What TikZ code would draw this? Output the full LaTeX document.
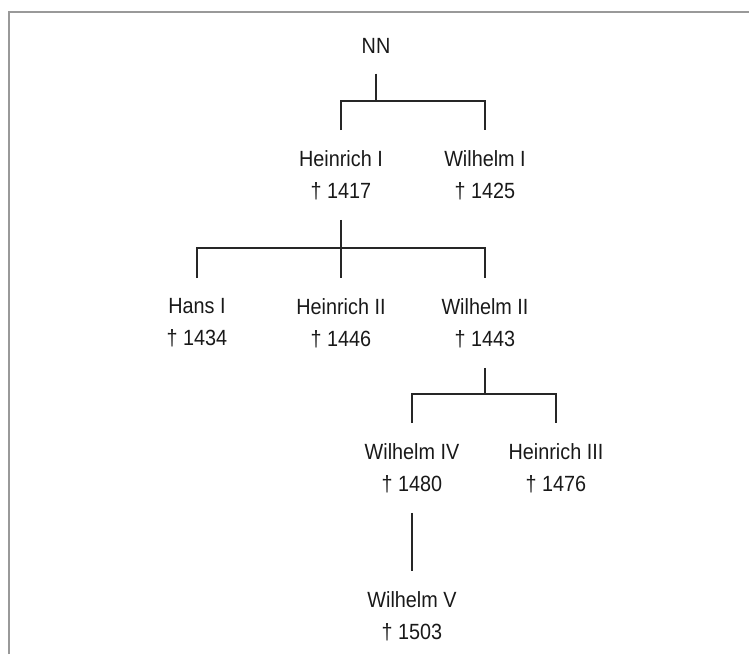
\documentclass[tikz,border=0pt]{standalone}
\usepackage{fontspec}
\setmainfont{Liberation Sans}[FakeStretch=0.9]
\begin{document}
\begin{tikzpicture}[x=1pt,y=-1pt,
  person/.style={align=center,anchor=north,inner xsep=0pt,inner ysep=20pt,
    font=\fontsize{22}{32}\selectfont,text=black!90},
  line/.style={line width=1.1pt,black!85}]
\useasboundingbox (0,0) rectangle (749,654);
\draw[line width=2pt,black!40] (8.5,654) -- (8.5,11.5) -- (749,11.5);
\node[person] (nn) at (376,18) {NN};
\node[person] (heinrichI) at (341,130) {Heinrich I\\† 1417};
\node[person] (wilhelmI) at (485,130) {Wilhelm I\\† 1425};
\node[person] (hansI) at (197,278) {Hans I\\† 1434};
\node[person] (heinrichII) at (341,278) {Heinrich II\\† 1446};
\node[person] (wilhelmII) at (485,278) {Wilhelm II\\† 1443};
\node[person] (wilhelmIV) at (412,423) {Wilhelm IV\\† 1480};
\node[person] (heinrichIII) at (556,423) {Heinrich III\\† 1476};
\node[person] (wilhelmV) at (412,571) {Wilhelm V\\† 1503};
% junctions of the bars
\coordinate (j1) at (376,101);
\coordinate (j2) at (341,248);
\coordinate (j3) at (485,394);
\draw[line] (nn.south) -- (j1);
\draw[line] (heinrichI.north) -- (heinrichI.north |- j1) -- (wilhelmI.north |- j1) -- (wilhelmI.north);
\draw[line] (heinrichI.south) -- (heinrichII.north);
\draw[line] (hansI.north) -- (hansI.north |- j2) -- (wilhelmII.north |- j2) -- (wilhelmII.north);
\draw[line] (wilhelmII.south) -- (j3);
\draw[line] (wilhelmIV.north) -- (wilhelmIV.north |- j3) -- (heinrichIII.north |- j3) -- (heinrichIII.north);
\draw[line] (wilhelmIV.south) -- (wilhelmV.north);
\end{tikzpicture}
\end{document}
